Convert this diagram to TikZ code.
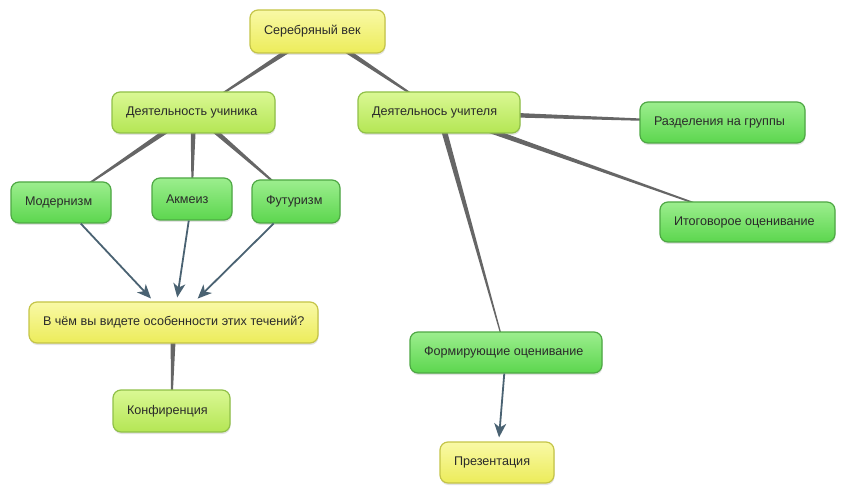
\documentclass[tikz,border=0pt]{standalone}
\usepackage{fontspec}
\setmainfont{Liberation Sans}
\usetikzlibrary{calc,shadows,backgrounds,arrows.meta}
\definecolor{yelT}{HTML}{F9F9A6}
\definecolor{yelB}{HTML}{ECEC5A}
\definecolor{yelD}{HTML}{C4C448}
\definecolor{limT}{HTML}{DAF894}
\definecolor{limB}{HTML}{B4E654}
\definecolor{limD}{HTML}{90C048}
\definecolor{grnT}{HTML}{9CEE8E}
\definecolor{grnB}{HTML}{5CD64E}
\definecolor{grnD}{HTML}{4EA844}
\definecolor{txtc}{HTML}{2A2A2A}
\definecolor{tapc}{HTML}{666666}
\definecolor{arrc}{HTML}{4A6272}
\newcommand\nodetxt[2]{\makebox[#1pt][l]{\hspace{14pt}\raisebox{-1pt}{#2}}}
\tikzset{
  box/.style={rectangle, rounded corners=8pt, line width=1.2pt, inner xsep=0pt, inner ysep=0pt,
    font=\fontsize{12.6}{14}\selectfont, text=txtc,
    drop shadow={shadow xshift=0.5pt, shadow yshift=-2pt, opacity=0.22}},
  yel/.style={box, draw=yelD, top color=yelT, bottom color=yelB},
  lim/.style={box, draw=limD, top color=limT, bottom color=limB},
  grn/.style={box, draw=grnD, top color=grnT, bottom color=grnB},
  arr/.style={draw=arrc, line width=1.8pt, shorten >=4pt,
    -{Stealth[length=14pt,width=12pt,inset=4pt]}},
}
\newcommand\taper[2]{%
  \fill[tapc] ($(#1)!3pt!90:(#2)$) -- ($(#2)!0.4pt!-90:(#1)$) -- ($(#2)!0.4pt!90:(#1)$) -- ($(#1)!3pt!-90:(#2)$) -- cycle;}
\begin{document}
\begin{tikzpicture}[x=1pt,y=-1pt]
\useasboundingbox (0,0) rectangle (846,494);
\node[yel, minimum height=43pt] (sv) at (317.5,31.5) {\nodetxt{135}{Серебряный век}};
\node[lim, minimum height=41pt] (du) at (193.5,112.5) {\nodetxt{163}{Деятельность учиника}};
\node[lim, minimum height=41pt] (dt) at (439,112.5) {\nodetxt{162}{Деятельнось учителя}};
\node[grn, minimum height=41pt] (rg) at (722.5,122.5) {\nodetxt{165}{Разделения на группы}};
\node[grn, minimum height=40pt] (io) at (747.5,222) {\nodetxt{175}{Итоговорое оценивание}};
\node[grn, minimum height=41pt] (mod) at (61,202.5) {\nodetxt{100}{Модернизм}};
\node[grn, minimum height=42pt] (akm) at (192,199) {\nodetxt{80}{Акмеиз}};
\node[grn, minimum height=43pt] (fut) at (296,201.5) {\nodetxt{88}{Футуризм}};
\node[yel, minimum height=41pt] (q) at (173.5,322.5) {\nodetxt{289}{В чём вы видете особенности этих течений?}};
\node[lim, minimum height=42pt] (kon) at (171.5,411) {\nodetxt{117}{Конфиренция}};
\node[grn, minimum height=41pt] (form) at (506,352.5) {\nodetxt{192}{Формирующие оценивание}};
\node[yel, minimum height=41pt] (prez) at (497,462.5) {\nodetxt{114}{Презентация}};
\begin{scope}[on background layer]
  \taper{sv}{du}
  \taper{sv}{dt}
  \taper{du}{mod}
  \taper{du}{akm}
  \taper{du}{fut}
  \taper{dt}{rg}
  \taper{dt}{io}
  \taper{dt}{form}
  \taper{q}{kon}
\end{scope}
\draw[arr] (mod) -- (q);
\draw[arr] (akm) -- (q);
\draw[arr] (fut) -- (q);
\draw[arr] (form) -- (prez);
\end{tikzpicture}
\end{document}
